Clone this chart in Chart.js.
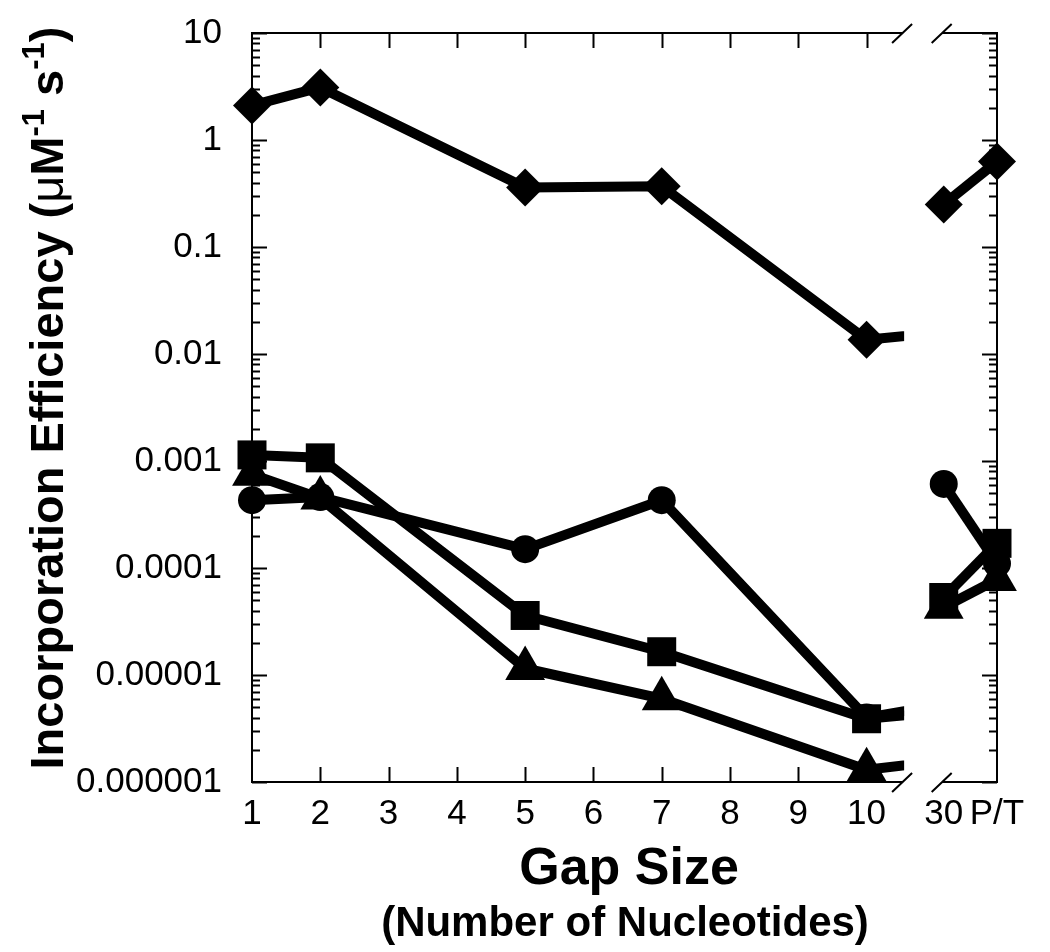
<!DOCTYPE html>
<html><head><meta charset="utf-8">
<script src="https://cdn.jsdelivr.net/npm/chart.js@4/dist/chart.umd.min.js"></script>
<style>html,body{margin:0;padding:0;background:#fff}#wrap{width:1050px;height:952px;position:relative}</style>
</head><body><div id="wrap"><canvas id="c"></canvas></div>
<script>
// ---------------- data ----------------
const gapSizes = [1, 2, 5, 7, 10, 30];          // number of nucleotides
const ptLabel = 'P/T';                          // last point: primer/template
const seriesDiamond  = [2.1, 3.1, 0.36, 0.37, 0.0136, 0.25, 0.63];
const seriesSquare   = [0.00114, 0.00107, 3.6e-5, 1.65e-5, 3.9e-6, 5.3e-5, 1.7e-4];
const seriesCircle   = [4.3e-4, 4.6e-4, 1.5e-4, 4.3e-4, 4.0e-6, 6.1e-4, 1.1e-4];
const seriesTriangle = [7.5e-4, 4.5e-4, 1.15e-5, 6.0e-6, 1.3e-6, 4.3e-5, 7.8e-5];
const xTickLabels = ['1','2','3','4','5','6','7','8','9','10','30','P/T'];
const yTickLabels = ['0.000001','0.00001','0.0001','0.001','0.01','0.1','1','10'];
const xTitle = 'Gap Size';
const xSubtitle = '(Number of Nucleotides)';

// ---------------- broken-axis layout ----------------
const BREAK_LEFT = 10.52, BREAK_RIGHT = 11.10, POS_30 = 11.13, POS_PT = 11.91, STUB_END = 10.55;
function displayX(label) {
  if (label === ptLabel) return POS_PT;
  const v = Number(label);
  return v <= 10 ? v : POS_30;
}
const FONT = '"Liberation Sans", Arial, Helvetica, sans-serif';

const seriesDefs = [
  {values: seriesDiamond,  style: 'rectRot',  r: 19},
  {values: seriesSquare,   style: 'rect',     r: 20.5},
  {values: seriesCircle,   style: 'circle',   r: 14},
  {values: seriesTriangle, style: 'triangle', r: 23},
];

const datasets = [];
seriesDefs.forEach(s => {
  datasets.push({
    data: s.values.map((v, i) => ({x: displayX(i < gapSizes.length ? String(gapSizes[i]) : ptLabel), y: v})),
    showLine: false, pointStyle: s.style, pointRadius: s.r, pointHoverRadius: s.r,
    backgroundColor: '#000', borderColor: '#000', borderWidth: 0, clip: false, order: 0
  });
});
seriesDefs.forEach(s => {
  datasets.push({
    data: gapSizes.map((g, i) => ({x: g, y: s.values[i]})),
    pointRadius: 0, borderColor: '#000', borderWidth: 10, borderCapStyle: 'butt',
    borderJoinStyle: 'round', tension: 0, order: 1, cutAtBreak: true
  });
  datasets.push({
    data: [{x: displayX('30'), y: s.values[5]}, {x: displayX(ptLabel), y: s.values[6]}],
    pointRadius: 0, borderColor: '#000', borderWidth: 10, borderCapStyle: 'butt',
    tension: 0, order: 1
  });
});

const breakClip = {
  id: 'breakClip',
  beforeDatasetDraw(chart, args) {
    const ds = chart.data.datasets[args.index];
    if (!ds.cutAtBreak) return;
    const ctx = chart.ctx, x = chart.scales.x;
    ctx.save();
    ctx.beginPath();
    ctx.rect(0, 0, x.getPixelForValue(STUB_END), chart.height);
    ctx.clip();
  },
  afterDatasetDraw(chart, args) {
    const ds = chart.data.datasets[args.index];
    if (!ds.cutAtBreak) return;
    chart.ctx.restore();
  }
};

const frame = {
  id: 'frame',
  beforeDatasetsDraw(chart) {
    const {ctx, chartArea: a, scales: {x, y}} = chart;
    ctx.save();
    ctx.strokeStyle = '#000'; ctx.lineWidth = 2; ctx.lineCap = 'butt';
    const bL = x.getPixelForValue(BREAK_LEFT), bR = x.getPixelForValue(BREAK_RIGHT);
    ctx.beginPath();
    ctx.moveTo(a.left, a.top - 1); ctx.lineTo(a.left, a.bottom + 1);
    ctx.moveTo(a.right, a.top - 1); ctx.lineTo(a.right, a.bottom + 1);
    [a.top, a.bottom].forEach(yy => {
      ctx.moveTo(a.left, yy); ctx.lineTo(bL, yy);
      ctx.moveTo(bR, yy); ctx.lineTo(a.right, yy);
      ctx.moveTo(bL - 10, yy + 10); ctx.lineTo(bL + 10, yy - 9);
      ctx.moveTo(bR - 10, yy + 10); ctx.lineTo(bR + 10, yy - 9);
    });
    const yVals = yTickLabels.map(Number);
    yVals.forEach((dec, k) => {
      for (let m = 1; m <= 9; m++) {
        if (k === yVals.length - 1 && m > 1) break;
        const py = Math.round(y.getPixelForValue(dec * m)) + 0.5;
        const len = m === 1 ? 15 : 8;
        ctx.moveTo(a.left, py); ctx.lineTo(a.left + len, py);
        ctx.moveTo(a.right, py); ctx.lineTo(a.right - len, py);
      }
    });
    xTickLabels.forEach(l => {
      const v = displayX(l);
      if (v > 10 || v <= 1) return;
      const px = Math.round(x.getPixelForValue(v)) + 0.5;
      ctx.moveTo(px, a.bottom); ctx.lineTo(px, a.bottom - 15);
      ctx.moveTo(px, a.top); ctx.lineTo(px, a.top + 15);
    });
    ctx.stroke();
    ctx.restore();
  },
  afterDraw(chart) {
    const ctx = chart.ctx;
    ctx.save();
    ctx.fillStyle = '#000';
    ctx.textAlign = 'center'; ctx.textBaseline = 'alphabetic';
    ctx.font = 'bold 52px ' + FONT;
    ctx.fillText(xTitle, 629, 884);
    ctx.font = 'bold 42px ' + FONT;
    ctx.fillText(xSubtitle, 625, 936);
    const segs = [
      {t: 'Incorporation Efficiency (', f: 'bold 47px ' + FONT, dy: 0},
      {t: 'μ', f: '47px ' + FONT, dy: 0},
      {t: 'M', f: 'bold 47px ' + FONT, dy: 0},
      {t: '-1', f: 'bold 31px ' + FONT, dy: -19},
      {t: ' s', f: 'bold 47px ' + FONT, dy: 0},
      {t: '-1', f: 'bold 31px ' + FONT, dy: -19},
      {t: ')', f: 'bold 47px ' + FONT, dy: 0},
    ];
    let total = 0;
    segs.forEach(s => { ctx.font = s.f; s.w = ctx.measureText(s.t).width; total += s.w; });
    ctx.translate(63, 398);
    ctx.rotate(-Math.PI / 2);
    ctx.textAlign = 'left';
    let cx = -total / 2;
    segs.forEach(s => { ctx.font = s.f; ctx.fillText(s.t, cx, s.dy); cx += s.w; });
    ctx.restore();
  }
};

new Chart(document.getElementById('c'), {
  type: 'line',
  data: {datasets},
  options: {
    responsive: true, maintainAspectRatio: false, animation: false,
    layout: {padding: {top: 33, right: 53, left: 0, bottom: 0}},
    plugins: {legend: {display: false}, tooltip: {enabled: false}},
    scales: {
      x: {
        type: 'linear', min: 1, max: POS_PT,
        grid: {display: false, drawTicks: false}, border: {display: false},
        afterFit(s) { s.height = 170; s.paddingLeft = 0; s.paddingRight = 0; },
        afterBuildTicks(s) { s.ticks = xTickLabels.map(l => ({value: displayX(l)})); },
        ticks: {
          autoSkip: false, maxRotation: 0, padding: 11, color: '#000',
          font: {family: FONT, size: 35},
          callback(v) { const l = xTickLabels.find(t => Math.abs(displayX(t) - v) < 1e-6); return l === undefined ? '' : l; }
        }
      },
      y: {
        type: 'logarithmic', min: 1e-6, max: 10,
        grid: {display: false, drawTicks: false}, border: {display: false},
        afterFit(s) { s.width = 252; s.paddingTop = 0; s.paddingBottom = 0; },
        afterBuildTicks(s) { s.ticks = yTickLabels.map(l => ({value: Number(l)})); },
        ticks: {
          autoSkip: false, padding: 30, color: '#000',
          font: {family: FONT, size: 35},
          callback(v) { const l = yTickLabels.find(t => Math.abs(Math.log10(Number(t)) - Math.log10(v)) < 1e-6); return l === undefined ? '' : l; }
        }
      }
    }
  },
  plugins: [breakClip, frame]
});
</script>
</body></html>
